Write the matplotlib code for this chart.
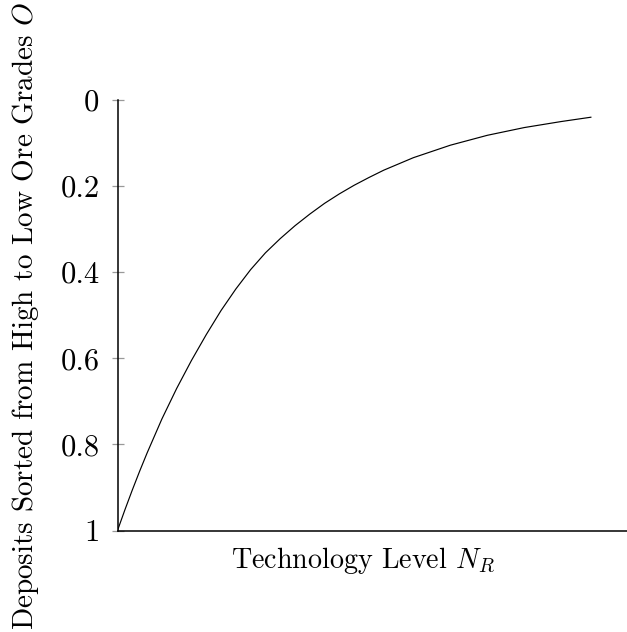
import numpy as np
import matplotlib
matplotlib.use("Agg")
import matplotlib.pyplot as plt

plt.rcParams["font.family"] = "serif"
plt.rcParams["font.serif"] = ["cmr10"]
plt.rcParams["mathtext.fontset"] = "cm"
plt.rcParams["axes.formatter.use_mathtext"] = True

# curve (x in arbitrary technology units, y = ore grade rank)
tech = [0.0, 0.05, 0.1, 0.15, 0.2, 0.3, 0.4, 0.5, 0.6, 0.7, 0.8, 0.9, 1.0,
        1.1, 1.2, 1.3, 1.4, 1.5, 1.6, 1.7, 1.8, 2.0, 2.25, 2.5, 2.75, 3.0, 3.2]
grade = [1.0, 0.952, 0.906, 0.862, 0.820, 0.741, 0.670, 0.605, 0.545, 0.489,
         0.439, 0.394, 0.355, 0.322, 0.292, 0.265, 0.240, 0.218, 0.198, 0.180,
         0.163, 0.134, 0.105, 0.082, 0.064, 0.050, 0.040]
yticks = [0, 0.2, 0.4, 0.6, 0.8, 1]
yticklabels = ["0", "0.2", "0.4", "0.6", "0.8", "1"]

W, H = 627, 632
fig = plt.figure(figsize=(W / 100, H / 100), dpi=100)
ax = fig.add_axes([117.5 / W, 101.5 / H, (W - 117.5) / W, 430.5 / H])

ax.plot(tech, grade, color="black", lw=0.85)

ax.set_xlim(0, (W - 117.5) * 0.00676)
ax.set_ylim(1, 0)
ax.set_xticks([])
ax.set_yticks(yticks)
ax.set_yticklabels(yticklabels, fontsize=22)
ax.tick_params(axis="y", direction="inout", length=8.6, width=0.9,
               color="#999999", pad=8.6)

for s in ["top", "right"]:
    ax.spines[s].set_visible(False)
for s in ["left", "bottom"]:
    ax.spines[s].set_linewidth(1.1)

# axis titles placed in pixels as in the reference
fig.text(362.5 / W, 1 - 568 / H, "Technology Level $N_R$", fontsize=20.2,
         ha="center", va="baseline")
fig.text(33 / W, 1 - 315.5 / H, "Deposits Sorted from High to Low Ore Grades $O$",
         fontsize=21, rotation=90, rotation_mode="anchor",
         ha="center", va="baseline")

fig.savefig("out.png", dpi=100)
